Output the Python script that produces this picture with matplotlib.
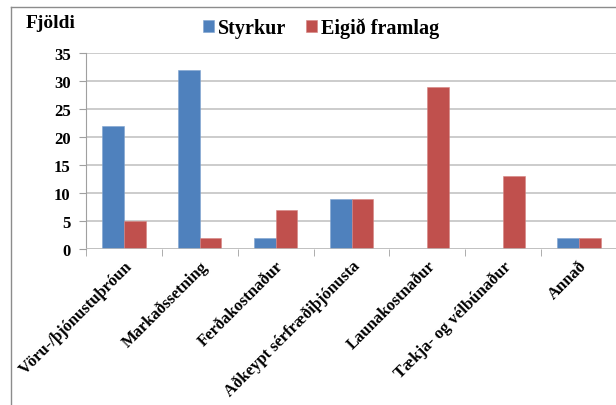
import numpy as np
import matplotlib.pyplot as plt
from matplotlib.lines import Line2D

# Gögn
flokkar = ['Vöru-/þjónustuþróun', 'Markaðssetning', 'Ferðakostnaður',
           'Aðkeypt sérfræðiþjónusta', 'Launakostnaður', 'Tækja- og vélbúnaður', 'Annað']
styrkur = [22, 32, 2, 9, 0, 0, 2]
eigid_framlag = [5, 2, 7, 9, 29, 13, 2]

plt.rcParams['font.family'] = ['Liberation Serif', 'DejaVu Serif']
plt.rcParams['font.weight'] = 'bold'

W, H = 616, 406
fig = plt.figure(figsize=(W / 100, H / 100), dpi=100)
ax = fig.add_axes([86 / W, 1 - 250 / H, 531 / W, (250 - 54) / H])

x = np.arange(len(flokkar))
w = 0.286
ax.bar(x - w / 2, styrkur, w, color='#4F81BD', edgecolor='#7FA3D0', linewidth=0.4, label='Styrkur', zorder=3)
ax.bar(x + w / 2, eigid_framlag, w, color='#C0504D', edgecolor='#D68482', linewidth=0.4, label='Eigið framlag', zorder=3)

ax.set_xlim(-0.5, len(flokkar) - 0.5)
ax.set_ylim(0, 35)
ax.set_yticks(range(0, 36, 5))
ax.yaxis.grid(True, color='#BEBEBE', linewidth=1.1, zorder=0)
for s in ['top', 'right', 'bottom']:
    ax.spines[s].set_visible(False)
ax.spines['left'].set_color('#A0A0A0')
ax.tick_params(axis='y', length=5, color='#A0A0A0', labelsize=12, pad=6)

# flokkamerki á miðju, strik á mörkum
ax.set_xticks(x)
ax.set_xticklabels(flokkar, rotation=45, ha='right', rotation_mode='anchor', fontsize=12)
ax.tick_params(axis='x', length=0, pad=6)
ax.set_xticks(np.arange(-0.5, len(flokkar), 1), minor=True)
ax.tick_params(axis='x', which='minor', length=5, color='#A0A0A0')
ax.axhline(0, color='#BEBEBE', linewidth=1.1, zorder=4)

fig.text(26 / W, 1 - 24 / H, 'Fjöldi', fontsize=14, fontweight='bold', va='center', ha='left')

fig.legend(loc='center', bbox_to_anchor=(321 / W, 1 - 29 / H), ncol=2, frameon=False,
           fontsize=14.5, handlelength=0.55, handleheight=0.55, handletextpad=0.2, columnspacing=1.0)

# rammi utan um
fig.add_artist(Line2D([11 / W, 1], [1 - 8 / H, 1 - 8 / H], color='#8C8C8C', linewidth=1.0))
fig.add_artist(Line2D([11 / W, 11 / W], [0, 1 - 8 / H], color='#8C8C8C', linewidth=1.0))

fig.savefig('out.png', dpi=100)
